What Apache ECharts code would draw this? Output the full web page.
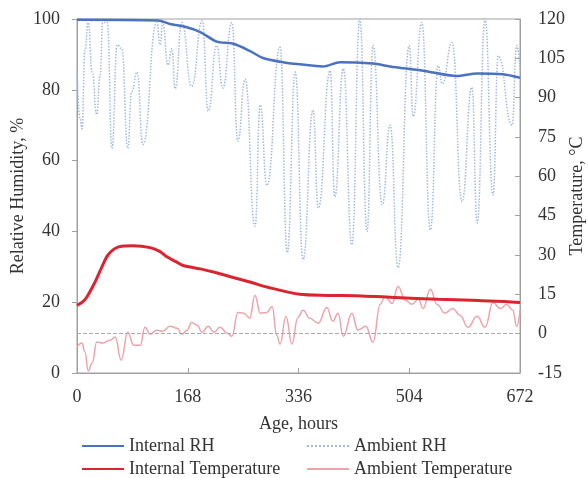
<!DOCTYPE html>
<html><head><meta charset="utf-8">
<script src="https://cdn.jsdelivr.net/npm/echarts@6/dist/echarts.min.js"></script>
<style>html,body{margin:0;padding:0;background:#fff}#c{width:588px;height:478px}</style>
</head><body><div id="c"></div>
<script>
// ---- data (hours, values) ----
const internalRhHours = [0,123,141,164,187,212,237,262,282,319,338,373,399,449,475,525,576,607,646,672];
const internalRhValues = [99.8,99.6,98.6,97.8,96.3,93.6,93,91,89,87.6,87.2,86.6,87.8,87.4,86.6,85.4,83.9,84.6,84.4,83.4];

const ambientRhHours = [0,4.5,7.6,12,17,23,30,35,39,46,53,61,68,77,83,91,100,121,126,130,138,144,149,159,174,190,199,212,221,235,244,255,270,278,288,308,319,331,343,358,366,384,391,404,417,429,440,449,463,475,487,504,510,523,536,548,554,569,584,599,607,619,631,639,660,667,672];
const ambientRhValues = [86,72,69,91,99,85,73,84,99,99,63.5,92.7,91.6,63.5,79.5,85,64.6,99,92.7,99,87,91.6,80.3,99,81,99.5,74,92.5,80.5,99,65.5,83,41.5,75.7,53,92,34,85,32,74.2,46.6,85.4,49.8,86,36.2,100,40,92.5,47.5,70,29.8,92.5,72.5,99,40.4,86.8,81.7,93.3,48.4,80.7,42.4,100,50.3,89.6,70,92.5,86];

const internalTempHours = [0,8,15,27,37,47,62,85,111,126,137,150,161,187,210,237,265,288,338,381,432,482,548,599,649,672];
const internalTempValues = [10.8,12,14,19.5,25,30,33,33.5,32.8,31.3,29.2,27.5,26,24.7,23.3,21.4,19.5,17.8,15,14.6,14.4,13.8,13.1,12.7,12.3,11.9];

const ambientTempHours = [0,7.6,12,17,23,30,39,50,58,67,77,86,96,103,111,121,130,141,152,159,167,174,182,190,199,208,217,228,235,244,253,262,270,278,288,296,303,308,317,326,335,343,353,366,379,388,396,404,417,426,438,449,460,467,478,487,498,508,518,525,536,546,558,570,581,593,607,619,631,642,652,661,667,672];
const ambientTempValues = [-5.1,-3.6,-7,-14.2,-11.2,-3.2,-3.6,-2.5,-1.3,-10.1,0.5,-4.4,-4.4,2.4,-0.2,1.3,0.9,2.8,2.1,-0.2,1.3,4.3,3.2,0.5,2.8,0.5,2.4,0.2,-1,8.1,7.8,5.9,14.6,7.8,8.1,10.4,-0.6,-4,6.6,-4,6.2,8.9,5.9,4,10,4.7,7.8,-1,7.8,1.3,2.8,-3.2,11.2,14.2,11.5,18,12.7,11.2,13.1,9.6,16.9,11.2,7.8,9.6,7,2.4,6.6,2.4,11.9,9.6,11.2,8.9,2.8,8.9];

const xTicks = [0,168,336,504,672];
const rhTicks = [0,20,40,60,80,100];
const tempTicks = [-15,0,15,30,45,60,75,90,105,120];

function pairs(h, v){ const n=Math.min(h.length,v.length); const out=[]; for(let i=0;i<n;i++) out.push([h[i],v[i]]); return out; }

const FONT = '"Liberation Serif", "Times New Roman", serif';
const TXT = '#333';
const FS = 18;
function leg(name, left, top){
  return {left:left, top:top, orient:'horizontal', itemWidth:42, itemHeight:14, padding:0,
    data:[name], itemStyle:{opacity:0},
    textStyle:{fontFamily:FONT,fontSize:FS,color:TXT,lineHeight:20}};
}
const chart = echarts.init(document.getElementById('c'), null, {renderer:'canvas'});
chart.setOption({
  animation:false,
  grid:{left:77,right:68,top:19,bottom:105,containLabel:false,outerBoundsMode:'none',
        show:true,borderColor:'#a0a0a0',borderWidth:1,backgroundColor:'transparent'},
  legend:[
    leg('Internal RH',81,436),
    leg('Ambient RH',306,436),
    leg('Internal Temperature',81,459),
    leg('Ambient Temperature',306,459)
  ],
  xAxis:{type:'value',min:xTicks[0],max:xTicks[xTicks.length-1],interval:xTicks[1]-xTicks[0],
    name:'Age, hours',nameLocation:'middle',nameGap:42,nameMoveOverlap:false,
    nameTextStyle:{fontFamily:FONT,fontSize:FS,color:TXT},
    axisLine:{lineStyle:{color:'#a0a0a0'}},
    axisTick:{inside:true,length:5,lineStyle:{color:'#a0a0a0'}},
    axisLabel:{fontFamily:FONT,fontSize:FS,color:TXT,margin:15},
    splitLine:{show:false}},
  yAxis:[
    {type:'value',min:rhTicks[0],max:rhTicks[rhTicks.length-1],interval:rhTicks[1]-rhTicks[0],
     name:'Relative Humidity, %',nameLocation:'middle',nameGap:50,nameRotate:90,nameMoveOverlap:false,
     nameTextStyle:{fontFamily:FONT,fontSize:FS,color:TXT},
     axisLine:{show:true,lineStyle:{color:'#a0a0a0'}},
     axisTick:{show:true,inside:false,length:5,lineStyle:{color:'#a0a0a0'}},
     axisLabel:{fontFamily:FONT,fontSize:FS,color:TXT,margin:17},
     splitLine:{show:false}},
    {type:'value',position:'right',min:tempTicks[0],max:tempTicks[tempTicks.length-1],interval:tempTicks[1]-tempTicks[0],
     name:'Temperature, °C',nameLocation:'middle',nameGap:48,nameRotate:90,nameMoveOverlap:false,
     nameTextStyle:{fontFamily:FONT,fontSize:FS,color:TXT},
     axisLine:{show:true,lineStyle:{color:'#a0a0a0'}},
     axisTick:{show:true,inside:true,length:5,lineStyle:{color:'#a0a0a0'}},
     axisLabel:{fontFamily:FONT,fontSize:FS,color:TXT,margin:18},
     splitLine:{show:false}}
  ],
  series:[
    {name:'Ambient RH',type:'line',yAxisIndex:0,data:pairs(ambientRhHours,ambientRhValues),
     symbol:'none',smooth:0.5,smoothMonotone:'x',z:1,
     itemStyle:{color:'#a4b8de'},
     lineStyle:{color:'#a4b8de',width:1.5,type:'dotted'}},
    {name:'Ambient Temperature',type:'line',yAxisIndex:1,data:pairs(ambientTempHours,ambientTempValues),
     symbol:'none',smooth:0.45,smoothMonotone:'x',z:2,
     itemStyle:{color:'#eca4ac'},
     lineStyle:{color:'#eca4ac',width:1.5},
     markLine:{silent:true,symbol:'none',label:{show:false},
       lineStyle:{color:'#aaaaaa',type:'dashed',width:1},
       data:[{yAxis:0}]}},
    {name:'Internal RH',type:'line',yAxisIndex:0,data:pairs(internalRhHours,internalRhValues),
     symbol:'none',smooth:0.3,z:3,
     itemStyle:{color:'#4a72bf'},
     lineStyle:{color:'#4a72bf',width:2.5}},
    {name:'Internal Temperature',type:'line',yAxisIndex:1,data:pairs(internalTempHours,internalTempValues),
     symbol:'none',smooth:0.3,z:4,
     itemStyle:{color:'#dc2430'},
     lineStyle:{color:'#dc2430',width:3}}
  ]
});
</script>
</body></html>
